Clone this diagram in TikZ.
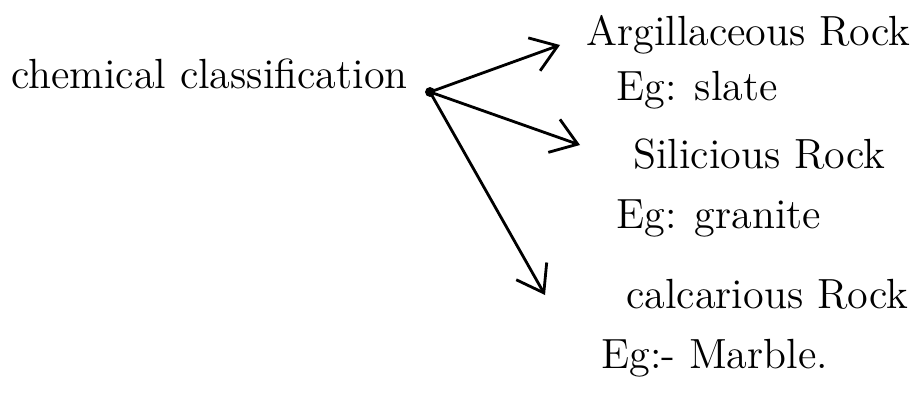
\documentclass[tikz,border=0pt]{standalone}
\usepackage{tikz}
\usetikzlibrary{arrows.meta}

\begin{document}
\begin{tikzpicture}[font=\fontsize{12}{14}\selectfont, line width=0.8pt]
    \useasboundingbox (0,0) rectangle (9.13,3.98);
    \node[anchor=base west,inner sep=0pt] (chem) at (0.10,3.10) {chemical classification};
    \node[circle,fill=black,inner sep=1pt] (src) at (4.30,3.06) {};

    \node[anchor=base west,inner sep=0pt] (arg) at (5.85,3.53) {Argillaceous Rock};
    \node[anchor=base west,inner sep=0pt] (eg1) at (6.15,2.98) {Eg: slate};
    \node[anchor=base west,inner sep=0pt] (sil) at (6.32,2.30) {Silicious Rock};
    \node[anchor=base west,inner sep=0pt] (eg2) at (6.15,1.70) {Eg: granite};
    \node[anchor=base west,inner sep=0pt] (cal) at (6.25,0.90) {calcarious Rock};
    \node[anchor=base west,inner sep=0pt] (eg3) at (6.00,0.30) {Eg:- Marble.};

    \coordinate (e1) at (5.60,3.53);
    \coordinate (e2) at (5.80,2.53);
    \coordinate (e3) at (5.45,1.03);
    \draw[-{Straight Barb[length=2.5mm,width=3.5mm]}] (src.center)--(e1);
    \draw[-{Straight Barb[length=2.5mm,width=3.5mm]}] (src.center)--(e2);
    \draw[-{Straight Barb[length=2.5mm,width=3.5mm]}] (src.center)--(e3);
\end{tikzpicture}
\end{document}
